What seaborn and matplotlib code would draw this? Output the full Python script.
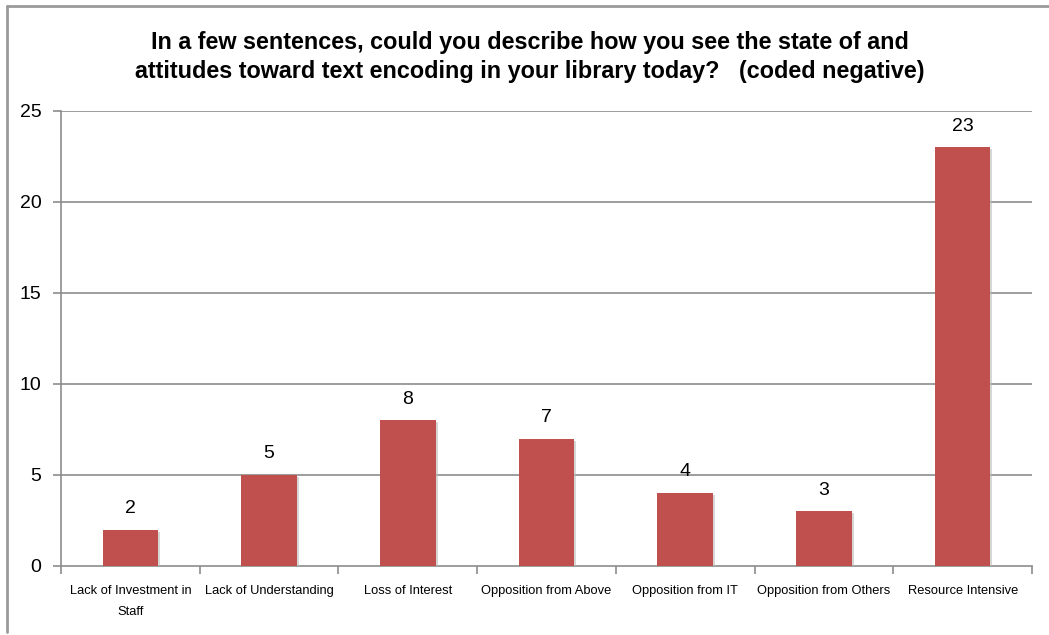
import matplotlib
matplotlib.use("Agg")
import matplotlib.pyplot as plt
import matplotlib.patheffects as pe
from matplotlib.lines import Line2D
import seaborn as sns
import pandas as pd

categories = ["Lack of Investment in\nStaff", "Lack of Understanding", "Loss of Interest",
              "Opposition from Above", "Opposition from IT", "Opposition from Others",
              "Resource Intensive"]
values = [2, 5, 8, 7, 4, 3, 23]
yticks = [0, 5, 10, 15, 20, 25]
title = ("In a few sentences, could you describe how you see the state of and\n"
         "attitudes toward text encoding in your library today?   (coded negative)")

sns.set_theme(style="white")
plt.rcParams['font.family'] = ['Liberation Sans', 'DejaVu Sans']
plt.rcParams['text.color'] = 'black'

df = pd.DataFrame({"cat": categories, "val": values})

fig = plt.figure(figsize=(10.49, 6.35), dpi=100)
ax = fig.add_axes([0.0582, 0.1087, 0.9256, 0.7165])

sns.barplot(data=df, x="cat", y="val", color="#C0504D", width=0.4, ax=ax,
            saturation=1, edgecolor="none")
for p in ax.patches:
    p.set_path_effects([pe.SimplePatchShadow(offset=(1.5, -1.5), shadow_rgbFace="#bbbbbb", alpha=0.6),
                        pe.Normal()])
    p.set_zorder(3)

grid_c = "#8c8c8c"
ax.set_ylim(0, 25)
ax.set_xlim(-0.5, len(categories) - 0.5)
ax.set_yticks(yticks)
ax.set_yticklabels([str(t) for t in yticks], fontsize=14, color="black")
for t in yticks[1:]:
    ax.axhline(t, color=grid_c, lw=1.2, zorder=1)

ax.set_xticks(range(len(categories)))
ax.set_xticklabels(categories, fontsize=9.3, color="black", linespacing=1.9)
ax.tick_params(axis="x", which="major", length=0, pad=14, bottom=True)
# category boundary ticks
ax.set_xticks([i - 0.5 for i in range(len(categories) + 1)], minor=True)
ax.tick_params(axis="x", which="minor", length=6, color=grid_c, width=1.2,
               direction="out", bottom=True)
ax.tick_params(axis="y", length=6, color=grid_c, width=1.2, direction="out",
               pad=8, left=True)

for s in ["top", "right"]:
    ax.spines[s].set_visible(False)
for s in ["left", "bottom"]:
    ax.spines[s].set_color(grid_c)
    ax.spines[s].set_linewidth(1.2)

ax.set_xlabel("")
ax.set_ylabel("")

for i, v in enumerate(values):
    ax.text(i, v + 0.7, str(v), ha="center", va="bottom", fontsize=14, color="black")

fig.text(0.505, 0.87, title, ha="center", va="bottom", fontsize=16.8,
         fontweight="bold", linespacing=1.3, color="black")

# outer chart border (left and top)
fig.add_artist(Line2D([7 / 1049, 7 / 1049], [1 - 632 / 635, 1 - 6 / 635],
                      transform=fig.transFigure, color="#9a9a9a", lw=2))
fig.add_artist(Line2D([7 / 1049, 1.0], [1 - 6 / 635, 1 - 6 / 635],
                      transform=fig.transFigure, color="#9a9a9a", lw=2))

fig.savefig("out.png", dpi=100, facecolor="white")
